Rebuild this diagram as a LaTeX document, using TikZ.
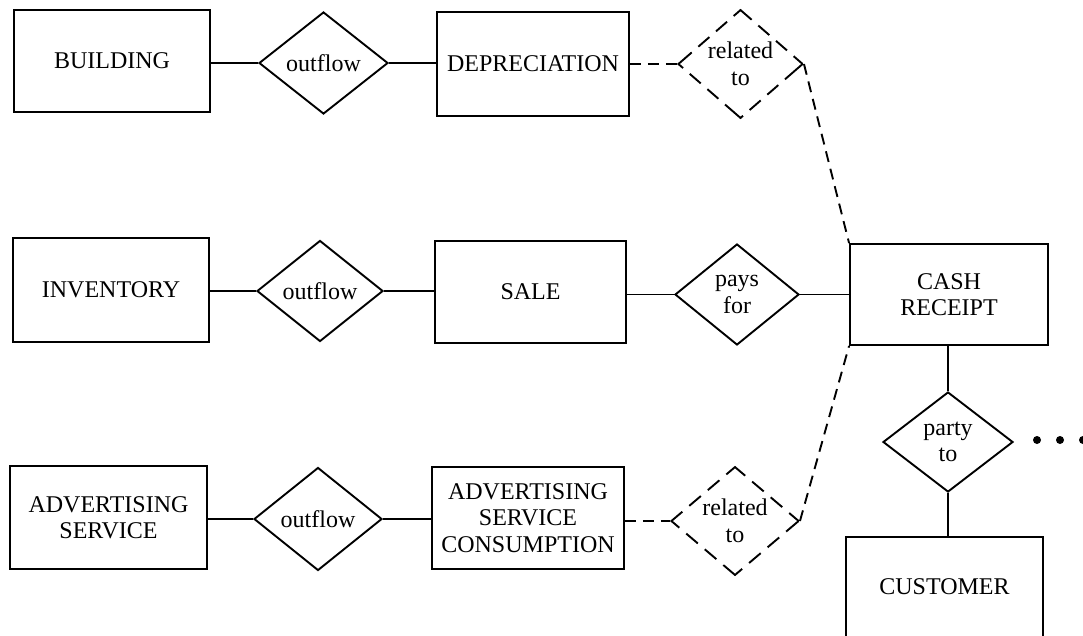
\documentclass[tikz,border=0pt]{standalone}
\usepackage{fontspec}
\setmainfont{Liberation Serif}
\usetikzlibrary{shapes.geometric}
\begin{document}
\begin{tikzpicture}[x=1pt,y=-1pt,
  every node/.style={font=\fontsize{24}{26.5}\selectfont, align=center},
  ent/.style={draw, rectangle, line width=1.9pt, inner sep=2pt},
  rel/.style={draw, diamond, line width=1.9pt, inner sep=0pt},
  drel/.style={draw, diamond, line width=1.9pt, inner sep=0pt},
  conn/.style={line width=1.9pt},
  dconn/.style={line width=1.9pt, dash pattern=on 11pt off 7pt},
  dotnode/.style={circle, fill=black, inner sep=0pt, minimum size=8pt}
]
\useasboundingbox (0,0) rectangle (1083,635);
\clip (0,0) rectangle (1083,635);

% row 1
\node[ent, minimum width=196pt, minimum height=102pt] (bld) at (112,61) {BUILDING};
\node[rel, minimum width=129pt, minimum height=102pt] (o1) at (323.5,63) {outflow};
\node[ent, minimum width=192pt, minimum height=104pt] (dep) at (533,64) {DEPRECIATION};
\node[drel, minimum width=125pt, minimum height=98pt,
      dash pattern=on 14.6pt off 8.8pt on 14.6pt off 8.8pt on 23.8pt off 8.8pt,
      dash phase=58.7pt] (r1) at (740.5,64) {related\\to};

% row 2
\node[ent, minimum width=196pt, minimum height=104pt] (inv) at (111,290) {INVENTORY};
\node[rel, minimum width=126pt, minimum height=101pt] (o2) at (320,291) {outflow};
\node[ent, minimum width=191pt, minimum height=102pt] (sale) at (530.5,292) {SALE};
\node[rel, minimum width=124pt, minimum height=101pt] (pay) at (737,294.5) {pays\\for};
\node[ent, minimum width=198pt, minimum height=101pt] (cr) at (949,294.5) {CASH\\RECEIPT};

% row 3
\node[ent, minimum width=197pt, minimum height=103pt] (adv) at (108.5,517.5) {ADVERTISING\\SERVICE};
\node[rel, minimum width=128pt, minimum height=103pt] (o3) at (318,519) {outflow};
\node[ent, minimum width=192pt, minimum height=102pt] (asc) at (528,518) {ADVERTISING\\SERVICE\\CONSUMPTION};
\node[drel, minimum width=128pt, minimum height=104pt,
      dash pattern=on 15.2pt off 9.1pt on 15.2pt off 9.1pt on 24.7pt off 9.1pt,
      dash phase=60.95pt] (r2) at (735,521) {related\\to};

% right column
\node[rel, minimum width=130pt, minimum height=100pt] (pt) at (948,442) {party\\to};
\node[ent, minimum width=197pt, minimum height=100pt] (cust) at (944.5,587) {CUSTOMER};
\node[dotnode] (d1) at (1037,440) {};
\node[dotnode] (d2) at (1060,440) {};
\node[dotnode] (d3) at (1083,440) {};

% connectors row 1
\draw[conn] (o1.west -| bld.east) -- (o1.west);
\draw[conn] (o1.east) -- (o1.east -| dep.west);
\draw[dconn] (r1.west -| dep.east) -- (r1.west);
\draw[dconn] (r1.east) -- (cr.north west);

% connectors row 2
\draw[conn] (o2.west -| inv.east) -- (o2.west);
\draw[conn] (o2.east) -- (o2.east -| sale.west);
\draw[conn] (pay.west -| sale.east) -- (pay.west);
\draw[conn] (pay.east) -- (pay.east -| cr.west);

% connectors row 3
\draw[conn] (o3.west -| adv.east) -- (o3.west);
\draw[conn] (o3.east) -- (o3.east -| asc.west);
\draw[dconn] (r2.west -| asc.east) -- (r2.west);
\draw[dconn] (r2.east) -- (cr.south west);

% vertical
\draw[conn] (pt.north |- cr.south) -- (pt.north);
\draw[conn] (pt.south) -- (pt.south |- cust.north);
\end{tikzpicture}
\end{document}
